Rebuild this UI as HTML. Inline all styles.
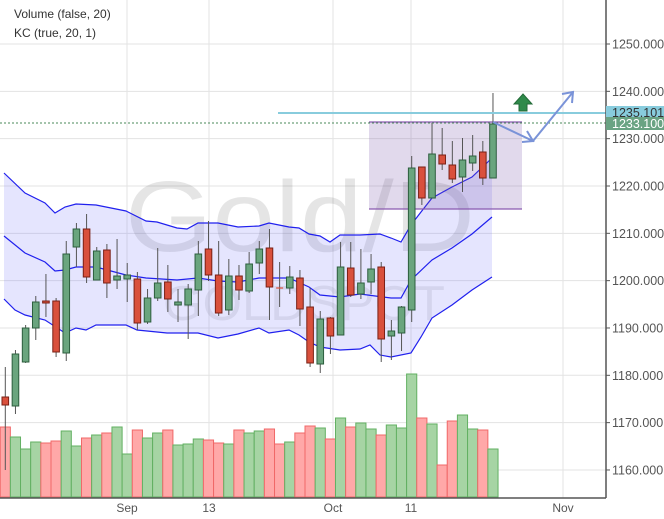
<!DOCTYPE html>
<html><head><meta charset="utf-8"><style>
html,body{margin:0;padding:0;background:#fff;}
svg{display:block;font-family:"Liberation Sans",sans-serif;}
</style></head><body>
<svg id="c" width="664" height="519" viewBox="0 0 664 519" xmlns="http://www.w3.org/2000/svg"></svg>
<script>
var s='';
function y(v){return 44+(1250-v)*4.733;}
for(var v=1160;v<=1250;v+=10){var yy=y(v);s+='<line x1="0" x2="606" y1="'+yy+'" y2="'+yy+'" stroke="#e3e3e3" stroke-width="1"/>';}
[127,209,333,411,563].forEach(function(x){s+='<line x1="'+x+'" x2="'+x+'" y1="0" y2="498" stroke="#e3e3e3" stroke-width="1"/>';});
s+='<text x="125" y="251" font-size="100" fill="rgba(0,0,0,0.10)" textLength="350" lengthAdjust="spacingAndGlyphs">Gold/D</text>';
s+='<text x="163" y="320" font-size="49" fill="rgba(0,0,0,0.08)" textLength="282" lengthAdjust="spacingAndGlyphs">GOLDSPOT</text>';
var up=[[4,173],[25,193],[45,203],[55,213],[65,207],[76,204],[96,205],[126,211],[146,221],[157,222],[177,228],[187,229],[198,223],[218,223],[238,227],[259,226],[269,223],[289,227],[299,228],[309,234],[320,236],[330,242],[340,235],[360,235],[380,234],[391,238],[401,242],[411,225],[421,212],[432,198],[452,187],[472,177],[492,158]];
var mid=[[4,236],[25,253],[45,262],[55,271],[65,270],[76,267],[96,267],[126,275],[146,278],[177,280],[198,278],[218,281],[238,282],[259,278],[289,278],[309,287],[320,295],[330,296],[340,297],[360,294],[391,298],[401,298],[411,280],[432,260],[452,248],[472,234],[492,217]];
var lo=[[4,299],[15,310],[25,315],[45,320],[65,333],[76,328],[86,330],[96,325],[126,325],[137,330],[167,333],[198,333],[218,338],[238,334],[259,328],[269,333],[289,330],[299,335],[309,342],[320,347],[340,350],[360,349],[370,345],[380,355],[391,357],[411,353],[421,337],[432,318],[452,305],[472,290],[492,277]];
function pts(a){return a.map(function(p){return p[0]+','+p[1];}).join(' ');}
s+='<polygon points="'+pts(up)+' '+pts(lo.slice().reverse())+'" fill="rgba(110,110,250,0.18)"/>';
[up,mid,lo].forEach(function(a){s+='<polyline points="'+pts(a)+'" fill="none" stroke="#2020ee" stroke-width="1.2"/>';});
var vt=[427,437,449,442,443,441,431,446,438,435,433,427,454,430,438,433,430,445,444,439,440,443,444,430,433,431,429,444,442,433,426,428,439,418,427,423,429,435,425,428,374,418,424,465,421,415,429,430,449];
var col="RGGGRRGGRGRGGRGGRGGGRRGRGGRRGRRGRGRGGRGGGRGRRGGRG";
var w=10.16;
for(var i=0;i<49;i++){var x0=0.2+w*i;var r=col[i]=='R';
s+='<rect x="'+x0+'" y="'+vt[i]+'" width="'+w+'" height="'+(497-vt[i])+'" fill="'+(r?'#ffa8a8':'#a6d4a4')+'" stroke="'+(r?'#f06868':'#62b062')+'" stroke-width="1"/>';}
var cd=[[397,405,367,470],[354,406,350,414],[328,362,325,363],[302,328,296,340],[301,303,274,317],[301,352,298,357],[254,353,241,361],[229,247,223,267],[229,277,214,283],[251,280,247,280],[250,283,244,298],[276,280,239,289],[275,279,263,302],[279,323,272,330],[298,322,289,324],[283,298,248,301],[282,299,265,312],[302,305,289,322],[289,305,284,339],[254,290,241,316],[249,275,221,281],[275,313,241,316],[276,310,259,315],[276,290,265,300],[264,291,252,293],[249,263,241,274],[248,287,229,320],[288,288,262,307],[277,288,266,294],[278,309,270,326],[307,363,288,367],[319,364,311,373],[318,336,317,354],[267,335,242,335],[268,295,242,297],[283,294,249,299],[269,282,254,294],[267,339,262,362],[331,336,320,360],[307,333,306,351],[168,310,156,322],[167,198,167,205],[154,198,123,198],[155,164,128,170],[165,179,141,183],[160,177,138,192],[156,163,135,171],[152,178,141,185],[124,178,93,178]];
s+='<rect x="369" y="122" width="153" height="87" fill="rgba(120,80,170,0.22)"/>';
s+='<line x1="369" x2="522" y1="122" y2="122" stroke="#8a5ab0" stroke-width="1.2"/><line x1="369" x2="522" y1="209" y2="209" stroke="#8a5ab0" stroke-width="1.2"/>';
for(var i=0;i<49;i++){var c=cd[i],cx=5.3+w*i,r=col[i]=='R';
s+='<line x1="'+cx+'" x2="'+cx+'" y1="'+c[2]+'" y2="'+c[3]+'" stroke="#555" stroke-width="1"/>';
if(i==27){s+='<line x1="'+(cx-3.5)+'" x2="'+(cx+3.5)+'" y1="288" y2="288" stroke="#d9503c" stroke-width="1.2"/>';continue;}
s+='<rect x="'+(cx-3.3)+'" y="'+c[0]+'" width="6.6" height="'+Math.max(1,c[1]-c[0])+'" fill="'+(r?'#d9503c':'#6aa57e')+'" stroke="'+(r?'#7a2015':'#2d5e3e')+'" stroke-width="1"/>';}
s+='<line x1="0" x2="606" y1="123" y2="123" stroke="#4a8a5a" stroke-width="1" stroke-dasharray="2,2"/>';
s+='<line x1="278" x2="606" y1="113" y2="113" stroke="#88ccdd" stroke-width="2"/>';
s+='<polyline points="493,122 533,141 573,92" fill="none" stroke="#7a93d8" stroke-width="2"/>';
s+='<polyline points="522,142 533,141 527,131" fill="none" stroke="#7a93d8" stroke-width="2"/>';
s+='<polyline points="562,94 573,92 572,103" fill="none" stroke="#7a93d8" stroke-width="2"/>';
s+='<polygon points="523,94 532,104 527,104 527,111 519,111 519,104 514,104" fill="#2f8a4a" stroke="#236b38" stroke-width="1"/>';
s+='<rect x="606" y="0" width="58" height="519" fill="#fff"/>';
s+='<line x1="606" x2="606" y1="0" y2="498" stroke="#555" stroke-width="1.5"/>';
s+='<line x1="0" x2="606" y1="498" y2="498" stroke="#555" stroke-width="1.5"/>';
for(var v=1160;v<=1250;v+=10){var yy=y(v);s+='<line x1="606" x2="610" y1="'+yy+'" y2="'+yy+'" stroke="#555"/><text x="612" y="'+(yy+4.5)+'" font-size="12.5" fill="#555">'+v+'.000</text>';}
s+='<rect x="606" y="106" width="58" height="12" fill="#88ccdd"/><text x="612" y="117" font-size="12.5" fill="#333">1235.101</text>';
s+='<rect x="606" y="117" width="58" height="13" fill="#6aa383"/><text x="612" y="128" font-size="12.5" fill="#fff">1233.100</text>';
[[127,'Sep'],[209,'13'],[333,'Oct'],[411,'11'],[563,'Nov']].forEach(function(t){s+='<text x="'+t[0]+'" y="512" font-size="12" fill="#555" text-anchor="middle">'+t[1]+'</text>';});
s+='<text x="14" y="18" font-size="12" fill="#333">Volume (false, 20)</text><text x="14" y="37" font-size="12" fill="#333">KC (true, 20, 1)</text>';
document.getElementById('c').innerHTML=s;
</script>
</body></html>
